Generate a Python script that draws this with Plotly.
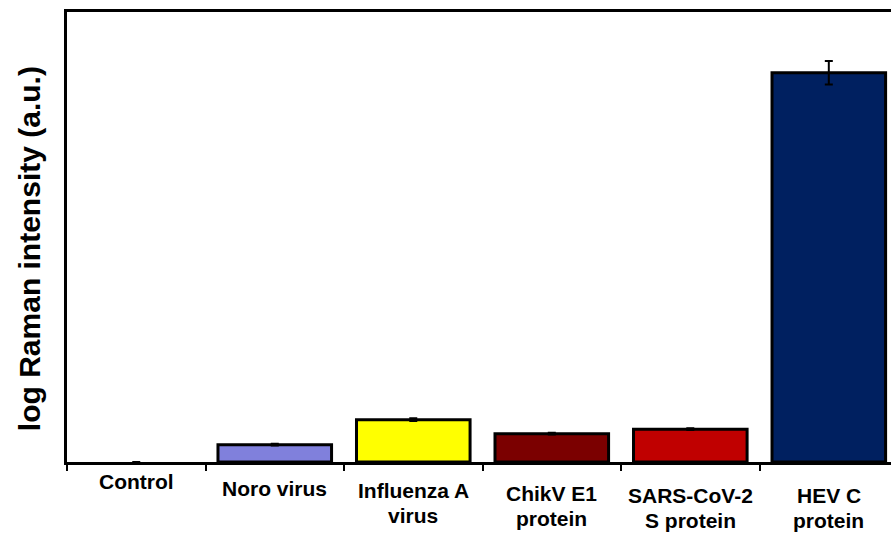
import plotly.graph_objects as go

categories = ["Control", "Noro virus", "Influenza A<br>virus", "ChikV E1<br>protein",
              "SARS-CoV-2<br>S protein", "HEV C<br>protein"]
values = [0.0, 0.385, 0.94, 0.63, 0.73, 8.65]
errors = [None, 0.02, 0.03, 0.02, 0.02, 0.26]
colors = ["#FFFFFF", "#8080DC", "#FFFF00", "#7B0000", "#C00000", "#002060"]
y_title = "log Raman intensity (a.u.)"

# pixel offsets (below the x axis) of the first label line's centre
label_offsets = [19, 26, 28, 31, 33, 33]
line_gap = 25
outline_widths = [0 if v == 0 else 3 for v in values]

x_idx = list(range(len(categories)))

fig = go.Figure()
fig.add_trace(go.Bar(
    x=x_idx, y=values,
    width=0.82,
    marker=dict(color=colors, line=dict(color="black", width=outline_widths)),
    error_y=dict(type="data", array=errors, color="black", thickness=2, width=4),
    showlegend=False,
))

annotations = []
for i, (lab, off) in enumerate(zip(categories, label_offsets)):
    for j, line in enumerate(lab.split("<br>")):
        annotations.append(dict(
            x=i, xref="x", y=0, yref="paper",
            text="<b>%s</b>" % line, showarrow=False,
            xanchor="center", yanchor="middle",
            yshift=-(off + j * line_gap),
            font=dict(family="Liberation Sans, Arial", size=21, color="black"),
        ))
annotations.append(dict(
    x=0, xref="paper", xshift=-38, y=0.473, yref="paper",
    text="<b>%s</b>" % y_title, showarrow=False, textangle=-90,
    xanchor="center", yanchor="middle",
    font=dict(family="Liberation Sans, Arial", size=30, color="black"),
))

fig.update_layout(
    width=891, height=534,
    margin=dict(l=67, r=0, t=12, b=72),
    plot_bgcolor="white", paper_bgcolor="white",
    annotations=annotations,
    xaxis=dict(
        range=[-0.5, 5.449], tickvals=[-0.5, 0.5, 1.5, 2.5, 3.5, 4.5, 5.5],
        showticklabels=False, ticks="outside", ticklen=6, tickwidth=2, tickcolor="black",
        showline=True, linecolor="black", linewidth=3, mirror=True,
        showgrid=False, zeroline=False,
    ),
    yaxis=dict(
        range=[0, 10], showticklabels=False, ticks="",
        showline=True, linecolor="black", linewidth=3,
        showgrid=False, zeroline=False,
    ),
)

fig.write_html(
    "out.html",
    config={"displayModeBar": False},
    post_script="document.body.style.margin='0';document.body.style.overflow='hidden';",
)
